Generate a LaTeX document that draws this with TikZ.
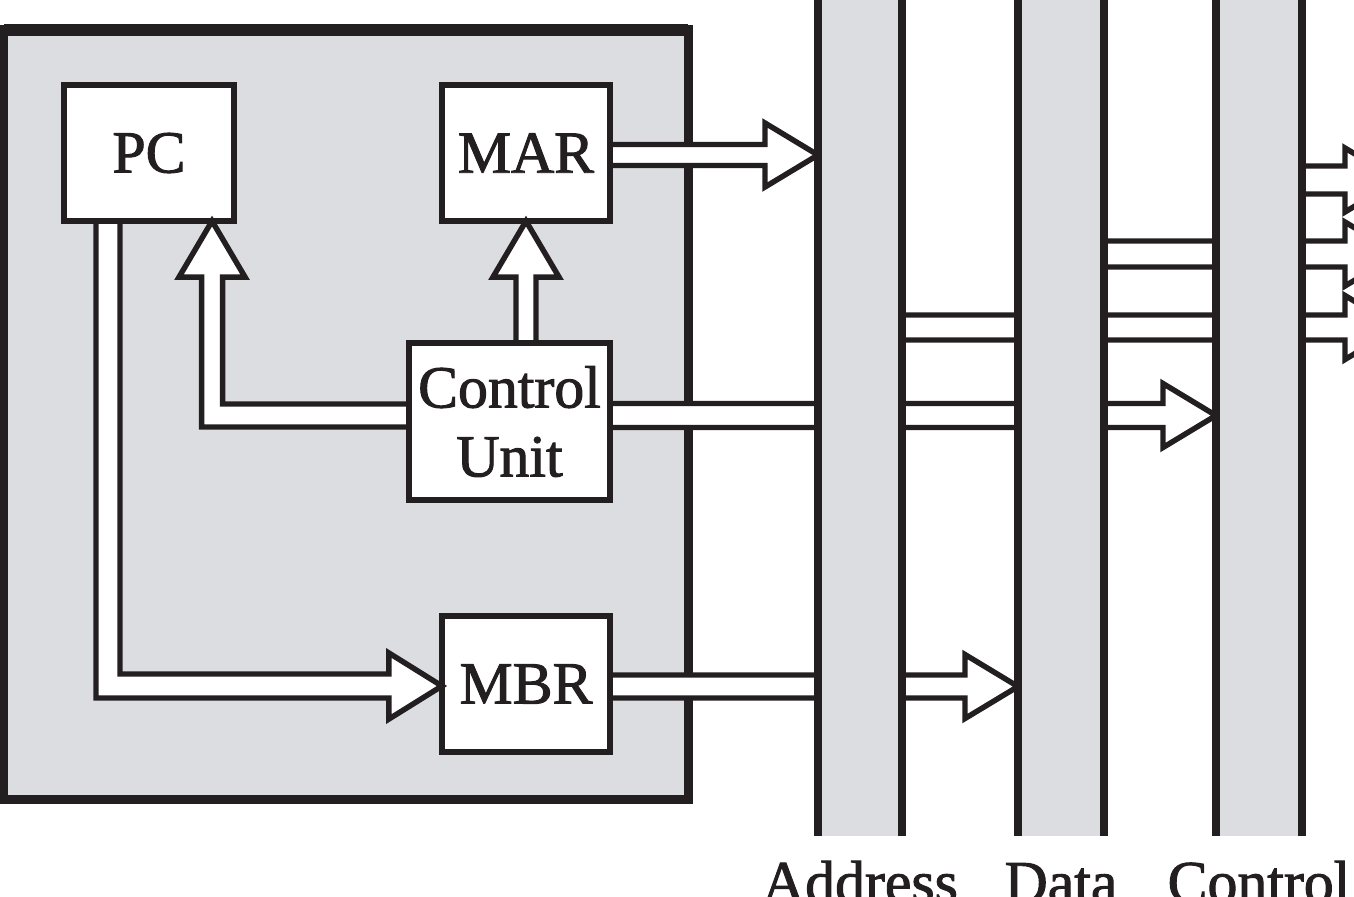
\documentclass[tikz,border=0pt]{standalone}
\usepackage{fontspec}
\setmainfont{Liberation Serif}[BoldFont=Liberation Serif, BoldFeatures={FakeBold=1.6}]
\usetikzlibrary{calc}
\definecolor{ink}{RGB}{35,31,32}
\definecolor{cpugray}{RGB}{220,221,224}
\tikzset{
  reg/.style={draw=ink, fill=white, line width=1.85pt, outer sep=0pt, inner sep=0pt,
    font=\fontsize{17}{19.6}\selectfont\bfseries, text=ink, align=center},
  pipe/.style={draw=ink, fill=white, line width=1.55pt, line join=miter},
  busline/.style={draw=ink, line width=2.3pt},
  busarea/.style={inner sep=0pt, outer sep=0pt, minimum height=8.56cm},
  lab/.style={font=\fontsize{17}{19.6}\selectfont\bfseries, text=ink, inner sep=0pt, anchor=base},
  cpubox/.style={draw=ink, fill=cpugray, line width=2.56pt, outer sep=0pt, inner sep=0pt}
}
\newcommand\rpipe[3]{%
  \draw[pipe] ($(#1)+(0,-#3)$) -- ($(#2)+(-53,-#3)$) -- ($(#2)+(-53,-32)$) -- (#2)
    -- ($(#2)+(-53,32)$) -- ($(#2)+(-53,#3)$) -- ($(#1)+(0,#3)$) -- cycle;}
\begin{document}
\begin{tikzpicture}[x=0.01cm,y=-0.01cm]
\useasboundingbox (0,0) rectangle (1354,896);
\clip (0,0) rectangle (1354,896);
% CPU box
\node[cpubox, minimum width=6.84cm, minimum height=7.69cm] (cpu) at (346,414.5) {};
\draw[ink, line width=3.4pt] (cpu.north west) -- (cpu.north east);
% registers
\node[reg, minimum width=1.70cm, minimum height=1.36cm] (pc) at (149,153) {PC};
\node[reg, minimum width=1.68cm, minimum height=1.36cm] (mar) at (526,153) {MAR};
\node[reg, minimum width=2.01cm, minimum height=1.57cm] (cu) at (509.5,421.5) {Control\\Unit};
\node[reg, minimum width=1.68cm, minimum height=1.36cm] (mbr) at (526,684) {MBR};
% bus areas (drawn later)
\node[busarea, minimum width=0.84cm] (abus) at (860,408) {};
\node[busarea, minimum width=0.86cm] (dbus) at (1061,408) {};
\node[busarea, minimum width=0.86cm] (cbus) at (1259,408) {};
% pipes inside CPU
\coordinate (cuW) at ($(cu.west)+(0,-6)$);
\coordinate (pcT) at ($(pc.south east)+(-22,0)$);
\draw[pipe] ($(cuW)+(0,11.5)$) -- ($(pcT |- cuW)+(-10.5,11.5)$) -- ($(pcT)+(-10.5,56)$)
  -- ($(pcT)+(-33,56)$) -- (pcT) -- ($(pcT)+(33,56)$) -- ($(pcT)+(10.5,56)$)
  -- ($(pcT |- cuW)+(10.5,-11.5)$) -- ($(cuW)+(0,-11.5)$) -- cycle;
\coordinate (marB) at (mar.south);
\draw[pipe] ($(cu.north -| marB)+(-10,0)$) -- ($(marB)+(-10,56)$) -- ($(marB)+(-33,56)$)
  -- (marB) -- ($(marB)+(33,56)$) -- ($(marB)+(10,56)$) -- ($(cu.north -| marB)+(10,0)$) -- cycle;
\coordinate (pcS) at ($(pc.south)+(-41,0)$);
\coordinate (mbrT) at ($(mbr.west)+(0,2)$);
\draw[pipe] ($(pcS)+(-12,0)$) -- ($(pcS |- mbrT)+(-12,12)$) -- ($(mbrT)+(-53,12)$)
  -- ($(mbrT)+(-53,33)$) -- (mbrT) -- ($(mbrT)+(-53,-33)$) -- ($(mbrT)+(-53,-12)$)
  -- ($(pcS |- mbrT)+(12,-12)$) -- ($(pcS)+(12,0)$) -- cycle;
% pipes to buses
\coordinate (marS) at ($(mar.east)+(0,2)$);
\coordinate (marT) at (abus.west |- marS);
\rpipe{marS}{marT}{10.5}
\coordinate (mbrS) at ($(mbr.east)+(0,2.5)$);
\coordinate (mbrD) at (dbus.west |- mbrS);
\rpipe{mbrS}{mbrD}{11.5}
\coordinate (cuE) at ($(cu.east)+(0,-6)$);
\coordinate (cuC) at (cbus.west |- cuE);
\rpipe{cuE}{cuC}{12}
% pipes leaving to the right
\coordinate (o1S) at (cbus.east |- 0,180);
\coordinate (o1T) at (1398,180);
\rpipe{o1S}{o1T}{14}
\coordinate (o2S) at (dbus.east |- 0,254);
\coordinate (o2T) at (1398,254);
\rpipe{o2S}{o2T}{13}
\coordinate (o3S) at (abus.east |- 0,327.5);
\coordinate (o3T) at (1398,327.5);
\rpipe{o3S}{o3T}{12.5}
% buses
\foreach \b in {abus,dbus,cbus}{
  \fill[cpugray] (\b.north west) rectangle (\b.south east);
  \draw[busline] (\b.north west) -- (\b.south west);
  \draw[busline] (\b.north east) -- (\b.south east);
}
% labels
\node[lab] (labA) at ($(abus.south)+(0,66)$) {Address};
\node[lab] (labD) at ($(dbus.south)+(0,66)$) {Data};
\node[lab] (labC) at ($(cbus.south)+(0,66)$) {Control};
\end{tikzpicture}
\end{document}
